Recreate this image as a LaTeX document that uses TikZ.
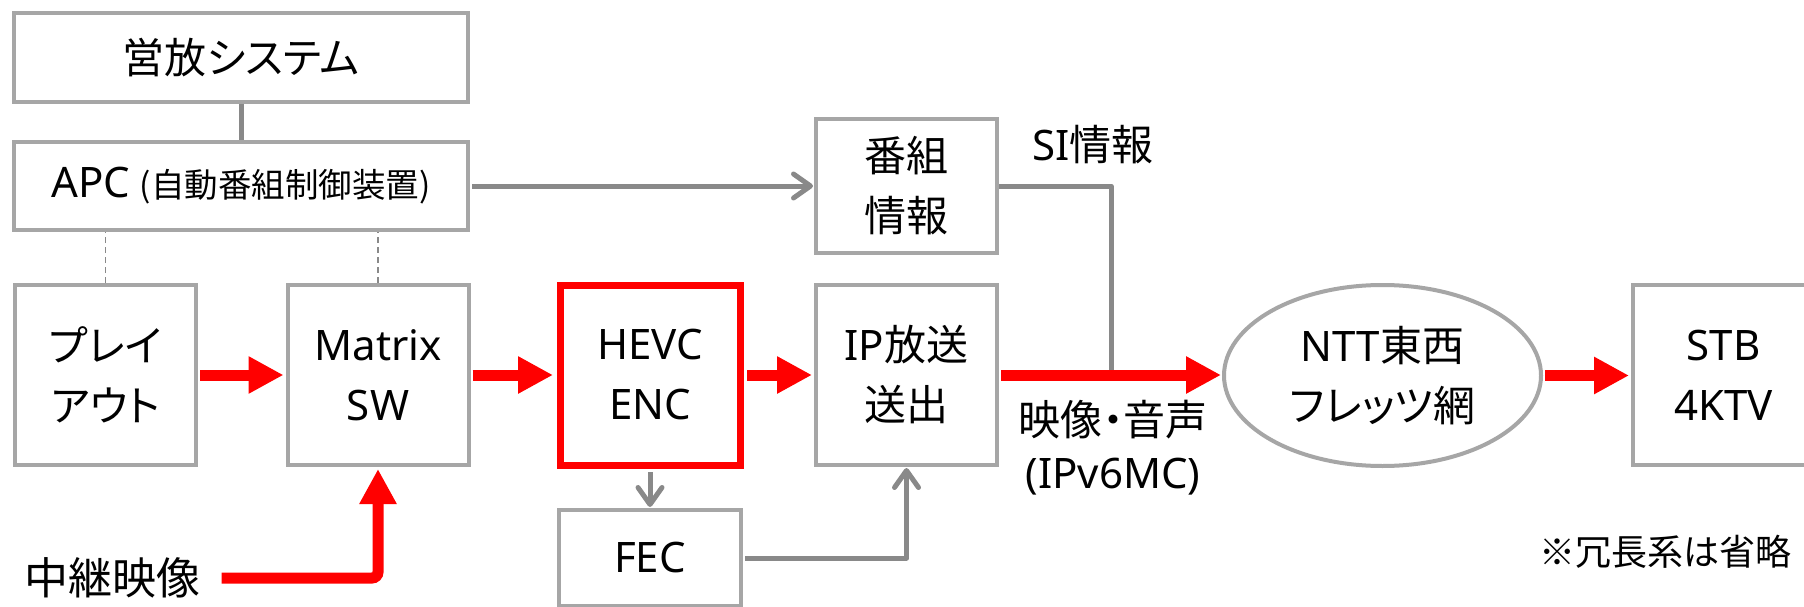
\documentclass[tikz,border=0pt]{standalone}
\usepackage{fontspec}
\setmainfont{Noto Sans CJK JP}[RawFeature=+palt]
\newfontfamily\latfont{Noto Sans}
\newcommand{\lt}[1]{{\latfont #1}}
\usetikzlibrary{arrows.meta,shapes.geometric}
\definecolor{boxgray}{RGB}{166,166,166}
\definecolor{linegray}{RGB}{137,137,137}
\definecolor{myred}{RGB}{255,0,0}
\begin{document}
\begin{tikzpicture}[x=1pt,y=-1pt,
  txt/.style={font=\fontsize{42}{60}\selectfont, align=center, text=black},
  gbox/.style={txt, rectangle, draw=boxgray, line width=4pt, fill=white, inner sep=0pt},
  rbox/.style={txt, rectangle, draw=myred, line width=7pt, fill=white, inner sep=0pt},
  redarrow/.style={draw=myred, line width=11pt, -{Triangle[length=35pt,width=35pt]}},
  grayline/.style={draw=linegray, line width=5pt},
  grayarrow/.style={grayline, -{Straight Barb[length=17pt,width=24pt,round]}},
  dashline/.style={draw=linegray, line width=1.5pt, dash pattern=on 6pt off 4pt}
]
\useasboundingbox (0,0) rectangle (1804,607);

% boxes
\node[gbox, minimum width=454pt, minimum height=89pt] (eiho) at (241,57.5) {営放システム};
\node[gbox, minimum width=454pt, minimum height=88pt] (apc) at (241,186) {\lt{APC} {\fontsize{33.5}{34}\selectfont (自動番組制御装置)}};
\node[gbox, minimum width=181pt, minimum height=180pt] (play) at (105.5,375) {プレイ\\アウト};
\node[gbox, minimum width=181pt, minimum height=180pt] (matrix) at (378,375) {\lt{Matrix}\\\lt{SW}};
\node[rbox, minimum width=180pt, minimum height=180pt] (hevc) at (650,375) {\lt{HEVC}\\\lt{ENC}};
\node[gbox, minimum width=181pt, minimum height=180pt] (ip) at (906.5,375) {\lt{IP}放送\\送出};
\node[gbox, minimum width=181pt, minimum height=134pt] (bangumi) at (906.5,186) {番組\\情報};
\node[gbox, minimum width=182pt, minimum height=96pt] (fec) at (650,558) {\lt{FEC}};
\node[gbox, minimum width=181pt, minimum height=180pt] (stb) at (1723.5,375) {\lt{STB}\\\lt{4KTV}};
\node[txt, ellipse, draw=boxgray, line width=4pt, fill=white, inner sep=0pt, minimum width=317pt, minimum height=181pt] (ntt) at (1382.5,375.5) {\lt{NTT}東西\\フレッツ網};

% labels
\node[txt] (si) at (1093,145) {\lt{SI}情報};
\node[txt, font=\fontsize{42}{53}\selectfont] (av) at (1113,448) {映像・音声\\\lt{(IPv6MC)}};
\node[txt, font=\fontsize{44}{44}\selectfont] (relay) at (112,578) {中継映像};
\node[txt, font=\fontsize{36}{36}\selectfont] (note) at (1665,552) {※冗長系は省略};

% gray connectors
\draw[grayline] (eiho.south) -- (apc.north);
\draw[dashline] (play.north) -- (play.north |- apc.south);
\draw[dashline] (matrix.north) -- (matrix.north |- apc.south);
\draw[grayarrow, shorten <=2pt, shorten >=1pt] (apc.east) -- (bangumi.west);
\coordinate (sij) at (1111,375);
\draw[grayline, line join=round] (bangumi.east) -| (sij);
\draw[grayarrow, shorten <=3.5pt, shorten >=1pt] (hevc.south) -- (fec.north);
\draw[grayarrow, line join=round, shorten <=2pt, shorten >=1pt] (fec.east) -| (ip.south);

% red arrows
\draw[redarrow, shorten <=2pt, shorten >=2pt] (play.east) -- (matrix.west);
\draw[redarrow, shorten <=2pt, shorten >=3.5pt] (matrix.east) -- (hevc.west);
\draw[redarrow, shorten <=3.5pt, shorten >=2pt] (hevc.east) -- (ip.west);
\draw[redarrow, shorten <=2pt, shorten >=1pt] (ip.east) -- (ip.east -| ntt.west);
\draw[redarrow, shorten <=2pt, shorten >=2pt] (ntt.east) -- (ntt.east -| stb.west);
\draw[redarrow, rounded corners=6pt, shorten <=18pt, shorten >=2pt] (relay.east) -| (matrix.south);
\end{tikzpicture}
\end{document}
